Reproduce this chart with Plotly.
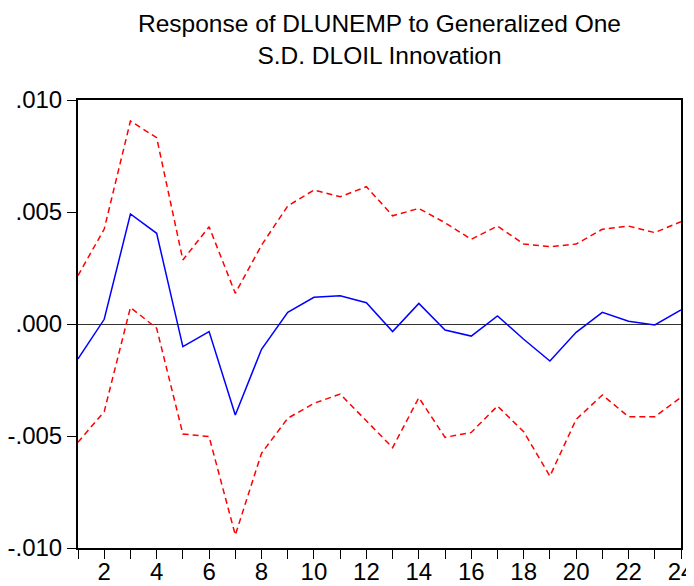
import plotly.graph_objects as go

periods = list(range(1, 25))

response = [-0.00156, 0.00021, 0.00491, 0.00405, -0.00101, -0.00034, -0.00406, -0.00113,
            0.00052, 0.00119, 0.00126, 0.00095, -0.00034, 0.00092, -0.00027, -0.00054,
            0.00036, -0.00068, -0.00165, -0.00037, 0.00052, 0.00012, -0.00004, 0.00063]

upper = [0.00216, 0.00424, 0.00906, 0.00832, 0.00286, 0.00434, 0.00137, 0.00352,
         0.00527, 0.00598, 0.00568, 0.00613, 0.00483, 0.00516, 0.00452, 0.00378,
         0.00437, 0.00357, 0.00345, 0.00357, 0.00423, 0.00437, 0.00408, 0.00457]

lower = [-0.00528, -0.00391, 0.00074, -0.00019, -0.00491, -0.00503, -0.00942, -0.00577,
         -0.00421, -0.00354, -0.00313, -0.00433, -0.00552, -0.00329, -0.00506, -0.00484,
         -0.00366, -0.00481, -0.00679, -0.00426, -0.00317, -0.00414, -0.00414, -0.00327]

y_ticks = [0.010, 0.005, 0.0, -0.005, -0.010]
y_labels = [".010", ".005", ".000", "-.005", "-.010"]
x_labels = [str(p) if p % 2 == 0 else "" for p in periods]

font = "Liberation Sans, Arial, sans-serif"

# the page adds an 8px body margin, so the figure is sized to fit inside it
fig = go.Figure()
fig.add_trace(go.Scatter(x=periods, y=upper, mode="lines",
                         line=dict(color="#ff0000", width=1.5, dash="6px,4px")))
fig.add_trace(go.Scatter(x=periods, y=lower, mode="lines",
                         line=dict(color="#ff0000", width=1.5, dash="6px,4px")))
fig.add_trace(go.Scatter(x=periods, y=response, mode="lines",
                         line=dict(color="#0000ff", width=1.5)))

fig.update_layout(
    width=686, height=578,
    margin=dict(l=70, r=13, t=92, b=38),
    plot_bgcolor="white", paper_bgcolor="white",
    showlegend=False,
    font=dict(family=font, color="black", size=24),
)
fig.add_annotation(
    text="Response of DLUNEMP to Generalized One<br>S.D. DLOIL Innovation",
    font=dict(family=font, size=24.5, color="black"),
    x=0.5, xref="paper", y=1 + 61 / 448, yref="paper", yanchor="middle",
    showarrow=False,
)

fig.update_xaxes(
    range=[1, 24], tickvals=periods, ticktext=x_labels,
    ticks="outside", ticklen=9, tickwidth=1.2, tickcolor="black",
    ticklabelstandoff=-8, ticklabeloverflow="allow",
    showline=True, linecolor="black", linewidth=2, mirror=True,
    showgrid=False, zeroline=False, automargin=False,
)
fig.update_yaxes(
    range=[-0.010, 0.010], tickvals=y_ticks, ticktext=y_labels,
    ticks="outside", ticklen=9, tickwidth=1.2, tickcolor="black",
    showline=True, linecolor="black", linewidth=2, mirror=True,
    showgrid=False, zeroline=True, zerolinecolor="#333333", zerolinewidth=1.2,
    automargin=False,
)

fig.write_html("out.html")
